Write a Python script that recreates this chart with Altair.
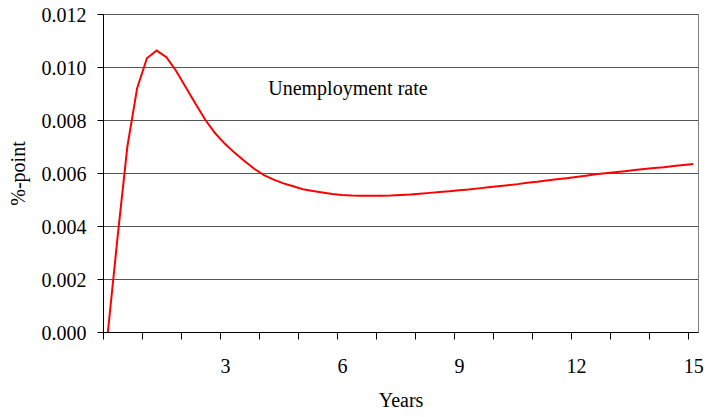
import altair as alt
import pandas as pd

years = [0.0, 0.25, 0.5, 0.75, 1.0, 1.25, 1.5, 1.75, 2.0, 2.25, 2.5, 2.75,
         3.0, 3.25, 3.5, 3.75, 4.0, 4.25, 4.5, 4.75, 5.0, 5.25, 5.5, 5.75,
         6.0, 6.25, 6.5, 6.75, 7.0, 7.25, 7.5, 7.75, 8.0, 8.25, 8.5, 8.75,
         9.0, 9.25, 9.5, 9.75, 10.0, 10.25, 10.5, 10.75, 11.0, 11.25, 11.5, 11.75,
         12.0, 12.25, 12.5, 12.75, 13.0, 13.25, 13.5, 13.75, 14.0, 14.25, 14.5, 14.75,
         15.0]
rate = [0.0, 0.0036, 0.0070, 0.0092, 0.01033, 0.01062, 0.01037, 0.00985, 0.00923, 0.00860, 0.00800, 0.00750,
        0.00710, 0.00676, 0.00645, 0.00616, 0.00592, 0.00575, 0.00561, 0.00550, 0.00539, 0.00532, 0.00526, 0.00521,
        0.00517, 0.00515, 0.00514, 0.00514, 0.00514, 0.00515, 0.00517, 0.00519, 0.00522, 0.00525, 0.00528, 0.00531,
        0.00535, 0.00538, 0.00542, 0.00546, 0.00550, 0.00554, 0.00558, 0.00563, 0.00567, 0.00572, 0.00576, 0.00580,
        0.00585, 0.00590, 0.00595, 0.00599, 0.00603, 0.00607, 0.00611, 0.00615, 0.00619, 0.00622, 0.00626, 0.00630,
        0.00634]
y_ticks = [0.0, 0.002, 0.004, 0.006, 0.008, 0.010, 0.012]
annotation = ["Unemployment rate"]

FONT = "Liberation Serif"

df = pd.DataFrame({"year": years, "rate": rate})
ann_df = pd.DataFrame({"year": [4.11], "rate": [0.00894], "text": annotation})

x_ticks = [k - 0.125 for k in range(16)]

x_scale = alt.Scale(domain=[-0.125, 15.125], nice=False, zero=False)
y_scale = alt.Scale(domain=[0, 0.012], nice=False)

x_axis = alt.Axis(
    values=x_ticks,
    labelExpr="(round(datum.value + 0.125) % 3 == 0 && datum.value > 0) ? format(round(datum.value + 0.125), 'd') : ''",
    labelOffset=4.9, labelFlush=False, labelOverlap=False, labelBound=False,
    labelBaseline="alphabetic", labelPadding=33,
    tickSize=7, tickColor="black", domainColor="black", grid=False,
    title="Years", titleFont=FONT, titleFontSize=20, titleFontWeight="normal",
    titleBaseline="alphabetic", titleY=74, titleColor="black",
    labelFont=FONT, labelFontSize=20, labelColor="black",
)
y_axis = alt.Axis(
    values=y_ticks, format=".3f", tickSize=6, tickColor="black", domainColor="black",
    grid=True, gridColor="#555555", gridWidth=1,
    labelPadding=11, labelFont=FONT, labelFontSize=20, labelColor="black",
    labelFlush=False, labelOverlap=False, labelOffset=1.5,
    title="%-point", titleFont=FONT, titleFontSize=20, titleFontWeight="normal",
    titleColor="black", titleAngle=-90, titleBaseline="alphabetic",
    titleX=-79, titleY=159, titleAlign="center",
)

line = alt.Chart(df).mark_line(color="#ff0000", strokeWidth=2).encode(
    x=alt.X("year:Q", scale=x_scale, axis=x_axis),
    y=alt.Y("rate:Q", scale=y_scale, axis=y_axis),
)

text = alt.Chart(ann_df).mark_text(
    align="left", baseline="alphabetic", font=FONT, fontSize=20, color="black"
).encode(
    x=alt.X("year:Q", scale=x_scale, axis=x_axis),
    y=alt.Y("rate:Q", scale=y_scale, axis=y_axis),
    text="text:N",
)

chart = alt.layer(line, text).properties(
    width=595, height=318,
    autosize=alt.AutoSizeParams(type="none"),
    padding={"left": 95, "top": 6, "right": 16, "bottom": 77},
).configure(
    font=FONT,
    style={"guide-label": {"font": FONT}, "guide-title": {"font": FONT}},
).configure_view(stroke="#808080", strokeWidth=1).configure_axis(
    labelFont=FONT, titleFont=FONT
)

chart.save("out.html", embed_options={"renderer": "svg", "actions": False})
